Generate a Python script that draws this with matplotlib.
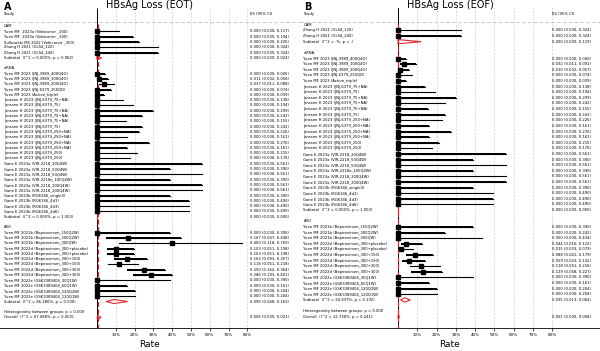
import matplotlib.pyplot as plt
import numpy as np

# ---------- data: panel A (EOT) ----------
a_cam_lab = ['Yuen MF  2023a (Vebicorvir _200)', 'Yuen MF  2023a (Vebicorvir _300)',
             'Sulkowski MS 2022 (Vebicorvir _300)', 'Zhang H 2021 (GLS4_120)', 'Zhang H 2021 (GLS4_240)']
a_cam_es = [0.000, 0.000, 0.000, 0.000, 0.000]
a_cam_lo = [0.000, 0.000, 0.000, 0.000, 0.000]
a_cam_hi = [0.117, 0.194, 0.226, 0.324, 0.324]

sirna_lab = ['Yuen MF 2023 (JNJ-3989_400Q4O)', 'Yuen MF 2023 (JNJ-3989_100Q4O)',
             'Yuen MF 2023 (JNJ-3989_200Q4O)', 'Yuen MF 2023 (JNJ-6379_250QD)',
             'Yuen MF 2023 (Active_triple)', 'Janssen H 2023 (JNJ-6379_75+NA)',
             'Janssen H 2023 (JNJ-6379_75)', 'Janssen H 2023 (JNJ-6379_75+NA)',
             'Janssen H 2023 (JNJ-6379_75+NA)', 'Janssen H 2023 (JNJ-6379_75+NA)',
             'Janssen H 2023 (JNJ-6379_75)', 'Janssen H 2023 (JNJ-6379_250+NA)',
             'Janssen H 2023 (JNJ-6379_250+NA)', 'Janssen H 2023 (JNJ-6379_250+NA)',
             'Janssen H 2023 (JNJ-6379_250+NA)', 'Janssen H 2023 (JNJ-6379_250)',
             'Janssen H 2023 (JNJ-6379_250)', 'Gane E 2023a (VIR-2218_20Q4W)',
             'Gane E 2023a (VIR-2218_50Q4W)', 'Gane E 2023a (VIR-2218_50Q4W)',
             'Gane E 2023a (VIR-2218e_100Q4W)', 'Gane E 2023a (VIR-2218_200Q4W)',
             'Gane E 2023a (VIR-2218_200Q4W)', 'Gane E 2023b (RG6346_single3)',
             'Gane E 2023b (RG6346_4d1)', 'Gane E 2023b (RG6346_4d3)', 'Gane E 2023b (RG6346_4d6)']
a_sirna_es = [0.000, 0.011, 0.037, 0.000, 0.000] + [0.000] * 22
a_sirna_lo = [0.000, 0.002, 0.011, 0.000, 0.000] + [0.000] * 22
a_sirna_hi = [0.045, 0.058, 0.088, 0.074, 0.039, 0.138, 0.194, 0.299, 0.242, 0.155, 0.242,
              0.226, 0.161, 0.276, 0.161, 0.215, 0.176, 0.561, 0.390, 0.561, 0.390, 0.561,
              0.561, 0.390, 0.490, 0.490, 0.490]

aso_lab = ['Yuen MF 2021b (Bepirovirsen_150Q2W)', 'Yuen MF 2021b (Bepirovirsen_300Q2W)',
           'Yuen MF 2021b (Bepirovirsen_300QW)', 'Yuen MF 2022d (Bepirovirsen_300+placebo)',
           'Yuen MF 2022d (Bepirovirsen_300+placebo)', 'Yuen MF 2022d (Bepirovirsen_300+150)',
           'Yuen MF 2022d (Bepirovirsen_300+150)', 'Yuen MF 2022d (Bepirovirsen_300+300)',
           'Yuen MF 2022d (Bepirovirsen_300+300)', 'Yuen MF 2022e (GSK3389404_30Q1W)',
           'Yuen MF 2022e (GSK3389404_60Q1W)', 'Yuen MF 2022e (GSK3389404_120Q2W)',
           'Yuen MF 2022e (GSK3389404_120Q1W)']
a_aso_es = [0.000, 0.167, 0.400, 0.103, 0.103, 0.162, 0.118, 0.250, 0.286, 0.000, 0.000, 0.000, 0.000]
a_aso_lo = [0.000, 0.047, 0.118, 0.051, 0.051, 0.093, 0.061, 0.162, 0.193, 0.000, 0.000, 0.000, 0.000]
a_aso_hi = [0.390, 0.448, 0.769, 0.198, 0.198, 0.267, 0.218, 0.364, 0.401, 0.390, 0.161, 0.204, 0.204]

a_sub_lab = ['Subtotal  (I^2 = 0.000%, p = 0.962)', 'Subtotal  (I^2 = 0.000%, p = 1.000)',
             'Subtotal  (I^2 = 86.280%, p = 0.000)']
a_sub = [(0.000, 0.000, 0.024), (0.000, 0.000, 0.000), (0.090, 0.048, 0.163)]
a_overall_lab = 'Overall  (I^2 = 67.088%, p = 0.000);'
a_overall = (0.006, 0.000, 0.021)

# ---------- data: panel B (EOF) ----------
b_cam_lab = ['Zhang H 2021 (GLS4_120)', 'Zhang H 2021 (GLS4_240)']
b_cam_es = [0.000, 0.000]
b_cam_lo = [0.000, 0.000]
b_cam_hi = [0.324, 0.324]

b_sirna_es = [0.000, 0.032, 0.010, 0.000, 0.000] + [0.000] * 22
b_sirna_lo = [0.000, 0.011, 0.002, 0.000, 0.000] + [0.000] * 22
b_sirna_hi = [0.040, 0.091, 0.057, 0.074, 0.039] + a_sirna_hi[5:]

b_aso_es = [0.000, 0.000, 0.000, 0.044, 0.015, 0.088, 0.059, 0.118, 0.129, 0.000, 0.000, 0.000, 0.000]
b_aso_lo = [0.000, 0.000, 0.000, 0.016, 0.003, 0.041, 0.023, 0.061, 0.068, 0.000, 0.000, 0.000, 0.000]
b_aso_hi = [0.390, 0.242, 0.434, 0.122, 0.079, 0.179, 0.142, 0.216, 0.227, 0.390, 0.161, 0.204, 0.204]

b_sub_lab = ['Subtotal  (I^2 = .%, p = .)', 'Subtotal  (I^2 = 0.000%, p = 1.000)',
             'Subtotal  (I^2 = 24.937%, p = 0.192)']
b_sub = [(0.000, 0.000, 0.119), (0.000, 0.000, 0.000), (0.035, 0.013, 0.064)]
b_overall_lab = 'Overall  (I^2 = 12.738%, p = 0.241);'
b_overall = (0.001, 0.000, 0.008)

groups = ['CAM', 'siRNA', 'ASO']
ticks = [0.1, 0.2, 0.3, 0.4, 0.5, 0.6, 0.7, 0.8]
tick_labels = ['10%', '20%', '30%', '40%', '50%', '60%', '70%', '80%']

RED = '#e0262b'
FS = 2.7


def fmt(es, lo, hi):
    return '%.3f (%.3f, %.3f)' % (es, lo, hi)


def forest(ax, studies, subs, sub_labs, overall, overall_lab, xlim, ylim, hdr_y, line_y,
           x_lab, x_es):
    ax.set_xlim(*xlim)
    ax.set_ylim(*ylim)
    for s in ['top', 'left', 'right']:
        ax.spines[s].set_visible(False)
    ax.spines['bottom'].set_linewidth(0.6)
    ax.set_yticks([])
    ax.set_xticks(ticks)
    ax.set_xticklabels(tick_labels, fontsize=3)
    ax.tick_params(axis='x', length=2, width=0.5, pad=1.5)
    ax.set_xlabel('Rate', fontsize=6.5, labelpad=2)

    ax.text(x_lab, hdr_y, 'Study', fontsize=FS, va='center')
    ax.text(x_es, hdr_y, 'ES (95% CI)', fontsize=FS, va='center')

    rows, los, his, ess = [], [], [], []
    row = 0
    for g, grp, sl, sv in zip(groups, studies, sub_labs, subs):
        lab, es, lo, hi = grp
        ax.text(x_lab, row, g, fontsize=FS, va='center')
        row += 1
        for i in range(len(lab)):
            rows.append(row)
            los.append(lo[i])
            his.append(hi[i])
            ess.append(es[i])
            ax.text(x_lab, row, lab[i], fontsize=FS, va='center')
            ax.text(x_es, row, fmt(es[i], lo[i], hi[i]), fontsize=FS, va='center')
            row += 1
        s_es, s_lo, s_hi = sv
        ax.fill([s_lo, s_es, s_hi, s_es, s_lo], [row, row - 0.38, row, row + 0.38, row],
                facecolor='none', edgecolor=RED, lw=0.8, zorder=5)
        ax.text(x_lab, row, sl, fontsize=FS, va='center')
        ax.text(x_es, row, fmt(s_es, s_lo, s_hi), fontsize=FS, va='center')
        row += 2
    ax.text(x_lab, row, 'Heterogeneity between groups: p = 0.000', fontsize=FS, va='center')
    row += 1
    o_es, o_lo, o_hi = overall
    ax.fill([o_lo, o_es, o_hi, o_es, o_lo], [row, row - 0.38, row, row + 0.38, row],
            facecolor='none', edgecolor=RED, lw=0.8, zorder=5)
    ax.text(x_lab, row, overall_lab, fontsize=FS, va='center')
    ax.text(x_es, row, fmt(*overall), fontsize=FS, va='center')

    # confidence intervals (bars + one broken line) and point estimates
    rows = np.array(rows, dtype=float)
    los = np.array(los, dtype=float)
    his = np.array(his, dtype=float)
    ax.barh(rows, his - los, left=los, height=0.24, color='black', linewidth=0, zorder=6)
    xs = np.column_stack([los, his, np.full(len(rows), np.nan)]).ravel()
    ys = np.column_stack([rows, rows, np.full(len(rows), np.nan)]).ravel()
    ax.plot(xs, ys, color='black', lw=0.8, zorder=6)
    ax.plot(ess, rows, marker='s', color='black', ms=2.8, ls='none', zorder=7)

    # grid and reference lines
    ax.vlines(ticks, hdr_y - 1.2, ylim[0], color='#cccccc', lw=0.5, linestyles=(0, (3, 2)), zorder=0)
    ax.hlines(line_y, xlim[0], xlim[1], color='#bbbbbb', lw=0.6, linestyles=(0, (4, 3)), zorder=0)
    ax.vlines(0, hdr_y - 1.2, ylim[0], color='black', lw=0.7, zorder=1)
    ax.vlines(overall[0], line_y + 0.3, ylim[0], color=RED, lw=0.9,
              linestyles=(0, (4, 2)), zorder=2)
    ax.set_xlim(*xlim)
    ax.set_ylim(*ylim)


fig = plt.figure(figsize=(6, 3.51), dpi=100)
axB = fig.add_axes([0.5, 23 / 351, 0.5, (328 - 8) / 351])
axA = fig.add_axes([0.0, 23 / 351, 0.5, (328 - 8) / 351])

forest(axA,
       [(a_cam_lab, a_cam_es, a_cam_lo, a_cam_hi),
        (sirna_lab, a_sirna_es, a_sirna_lo, a_sirna_hi),
        (aso_lab, a_aso_es, a_aso_lo, a_aso_hi)],
       a_sub, a_sub_lab, a_overall, a_overall_lab,
       xlim=(-0.516, 1.08), ylim=(57.0, -3.4), hdr_y=-2.26, line_y=-0.75,
       x_lab=-0.495, x_es=0.814)

forest(axB,
       [(b_cam_lab, b_cam_es, b_cam_lo, b_cam_hi),
        (sirna_lab, b_sirna_es, b_sirna_lo, b_sirna_hi),
        (aso_lab, b_aso_es, b_aso_lo, b_aso_hi)],
       b_sub, b_sub_lab, b_overall, b_overall_lab,
       xlim=(-0.508, 1.047), ylim=(54.0, -3.0), hdr_y=-1.96, line_y=-0.53,
       x_lab=-0.49, x_es=0.80)

fig.text(0.25, 1 - 5.5 / 351, 'HBsAg Loss (EOT)', fontsize=7, ha='center', va='center')
fig.text(0.75, 1 - 5.5 / 351, 'HBsAg Loss (EOF)', fontsize=7, ha='center', va='center')
fig.text(4 / 600, 1 - 7 / 351, 'A', fontsize=7, fontweight='bold', ha='left', va='center')
fig.text(304 / 600, 1 - 7 / 351, 'B', fontsize=7, fontweight='bold', ha='left', va='center')

fig.savefig('out.png', dpi=100)
